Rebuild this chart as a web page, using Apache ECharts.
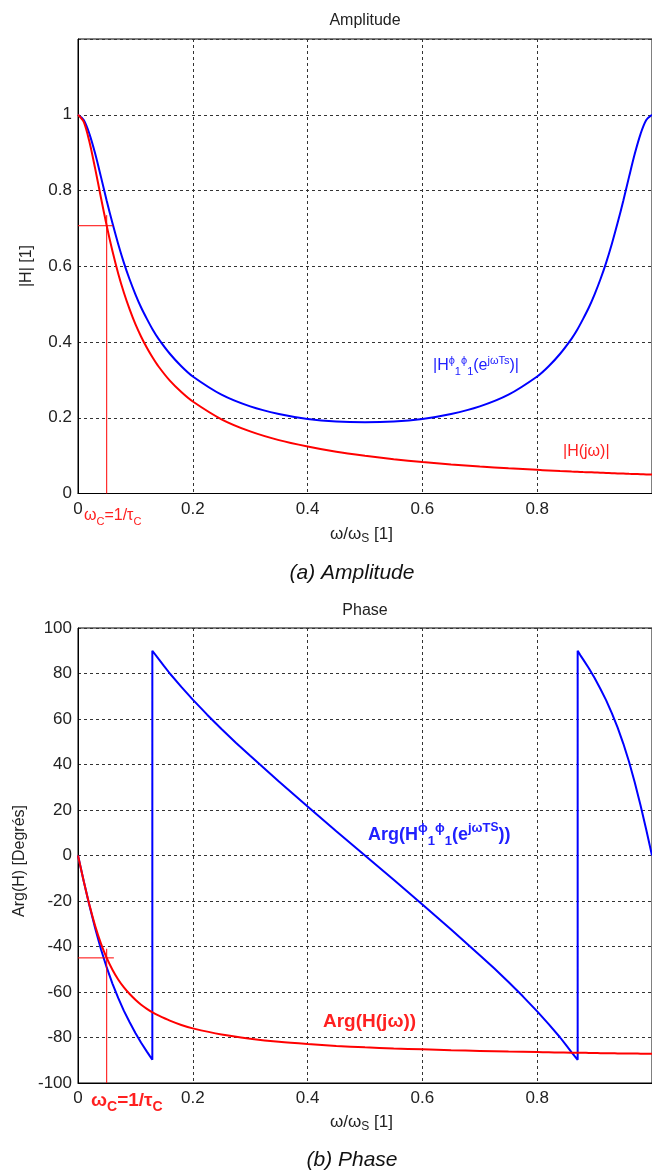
<!DOCTYPE html>
<html><head><meta charset="utf-8">
<script src="https://cdn.jsdelivr.net/npm/echarts@6/dist/echarts.min.js"></script>
<style>html,body{margin:0;padding:0;background:#fff}#c{width:652px;height:1174px}</style>
</head><body><div id="c"></div>
<script>
// ---------- DATA ----------
const ampX = [0,0.01,0.02,0.03,0.04,0.05,0.06,0.07,0.08,0.09,0.10,0.11,0.12,0.13,0.14,0.16,0.18,0.20,0.25,0.30,0.35,0.40,0.45,0.50,0.55,0.60,0.65,0.70,0.75,0.80,0.82,0.84,0.86,0.87,0.88,0.89,0.90,0.91,0.92,0.93,0.94,0.95,0.96,0.97,0.98,0.99,1.00];
const ampBlue = [1.000,0.986,0.949,0.897,0.836,0.773,0.714,0.659,0.609,0.565,0.526,0.491,0.461,0.433,0.409,0.369,0.336,0.309,0.261,0.230,0.210,0.197,0.190,0.188,0.190,0.197,0.210,0.230,0.261,0.309,0.336,0.369,0.409,0.433,0.461,0.491,0.526,0.565,0.609,0.659,0.714,0.773,0.836,0.897,0.949,0.986,1.000];
const ampRed = [1.000,0.981,0.928,0.857,0.781,0.707,0.640,0.581,0.530,0.486,0.447,0.414,0.385,0.359,0.336,0.298,0.268,0.243,0.196,0.164,0.141,0.124,0.110,0.0995,0.0905,0.0830,0.0767,0.0712,0.0665,0.0624,0.0609,0.0594,0.0580,0.0574,0.0567,0.0561,0.0555,0.0549,0.0543,0.0537,0.0531,0.0526,0.0520,0.0515,0.0510,0.0504,0.0499];
const phaseRedX = ampX;
const phaseRed = [0,-11.3,-21.8,-31.0,-38.7,-45.0,-50.2,-54.5,-58.0,-60.9,-63.4,-65.6,-67.4,-69.0,-70.3,-72.6,-74.5,-76.0,-78.7,-80.5,-81.9,-82.9,-83.7,-84.3,-84.8,-85.2,-85.6,-85.9,-86.2,-86.4,-86.5,-86.6,-86.7,-86.7,-86.7,-86.8,-86.8,-86.9,-86.9,-86.9,-87.0,-87.0,-87.0,-87.0,-87.1,-87.1,-87.1];
const phaseBlueX = [0,0.01,0.02,0.03,0.04,0.05,0.06,0.07,0.08,0.09,0.10,0.11,0.12,0.125,0.1295,0.1295,0.14,0.15,0.16,0.18,0.20,0.225,0.25,0.275,0.30,0.35,0.40,0.45,0.50,0.55,0.60,0.65,0.70,0.725,0.75,0.775,0.80,0.82,0.84,0.85,0.86,0.8705,0.8705,0.875,0.88,0.89,0.90,0.91,0.92,0.93,0.94,0.95,0.96,0.97,0.98,0.99,1.00];
const phaseBlue = [0,-11.3,-22.1,-32.1,-41.2,-49.2,-56.3,-62.6,-68.3,-73.3,-78.0,-82.3,-86.2,-88.1,-89.8,90,86.5,83.2,80.0,74.1,68.5,61.9,55.6,49.6,43.8,32.5,21.5,10.7,0,-10.7,-21.5,-32.5,-43.8,-49.6,-55.6,-61.9,-68.5,-74.1,-80.0,-83.2,-86.5,-89.8,90,88.1,86.2,82.3,78.0,73.3,68.3,62.6,56.3,49.2,41.2,32.1,22.1,11.3,0];
const cutoffW = 0.05;
const cutoffAmp = 0.707;
const cutoffPhase = -45;
const cutAmpHEnd = 0.061, cutAmpVTop = 0.735;
const cutPhHEnd = 0.0625, cutPhVTop = -41;
const ampTicks = {min:0, max:1.2, step:0.2};
const phaseTicks = {min:-100, max:100, step:20};
const xTicks = {min:0, max:1, step:0.2};

// ---------- CHART ----------
const FF = '"Liberation Sans", Arial, sans-serif';
const RED = '#ff0000', BLUE = '#0000ff';
const pairs = (xs, ys) => xs.map((x, i) => [x, ys[i]]);

const axisLbl = {color:'#222', fontSize:17, fontFamily:FF};
const split = {show:true, lineStyle:{color:'#333', width:1, type:[3,3]}};

function xAx(gi){ return {
  type:'value', gridIndex:gi, min:xTicks.min, max:xTicks.max, interval:xTicks.step,
  axisLine:{show:true, onZero:false, lineStyle:{color:'#000'}}, axisTick:{show:false},
  axisLabel:Object.assign({margin:7, showMaxLabel:false}, axisLbl), splitLine:split };
}
function yAx(gi, t, showMax){ return {
  type:'value', gridIndex:gi, min:t.min, max:t.max, interval:t.step,
  axisLine:{show:true, onZero:false, lineStyle:{color:'#000'}}, axisTick:{show:false},
  axisLabel:Object.assign({margin:6, showMaxLabel:showMax}, axisLbl), splitLine:split };
}
function line(xi, data, color, w, z, smooth){ return {
  type:'line', xAxisIndex:xi, yAxisIndex:xi, data, symbol:'none', silent:true, z:z||2,
  smooth:smooth||false,
  lineStyle:{color, width:w}, itemStyle:{color}, animation:false };
}

function R(size, va, lh, weight, color){ const o = {fontSize:size, fontFamily:FF, lineHeight:lh||size, verticalAlign:va, fontWeight:weight||'normal'}; if(color){o.fill=color;o.color=color;} return o; }
function T(x, y, text, rich, color, extra){
  return Object.assign({type:'text', x, y, z:100, silent:true,
    style:{text, rich, fill:color, align:'left', verticalAlign:'middle', textAlign:'left', textVerticalAlign:'middle'}}, extra||{});
}
function P(x, y, text, size, color, opts){
  opts = opts||{};
  return {type:'text', x, y, z:100, silent:true, rotation:opts.rot||0,
    style:{text, fill:color, fontSize:size, fontFamily:FF, fontStyle:opts.italic?'italic':'normal', fontWeight:opts.bold?'bold':'normal',
      align:opts.align||'center', verticalAlign:'middle', textAlign:opts.align||'center', textVerticalAlign:'middle'}};
}

const sRich = {m:R(17,'middle',22), s:R(12,'bottom',12)};
const topBlueRich = {m:R(16,'middle',22), p:R(11,'top',11), b:R(11,'bottom',11)};
const redSmallRich = {m:R(16,'middle',22), b:R(11,'bottom',11)};
const botBlueRich = {m:R(18,'middle',26,'bold'), p:R(13,'top',13,'bold'), b:R(13,'bottom',13,'bold'), s:R(12,'top',22,'bold')};
const botRedRich = {m:R(19,'middle',26,'bold'), b:R(14,'bottom',14,'bold')};

const option = {
  backgroundColor:'#fff',
  animation:false,
  grid:[
    {left:78, top:39, width:576, height:454.5, show:true, borderColor:'#000', borderWidth:1, containLabel:false},
    {left:78, top:628, width:576, height:455, show:true, borderColor:'#000', borderWidth:1, containLabel:false}
  ],
  xAxis:[xAx(0), xAx(1)],
  yAxis:[yAx(0, ampTicks, false), yAx(1, phaseTicks, true)],
  series:[
    line(0, pairs(ampX, ampBlue), BLUE, 2, 3, 0.3),
    line(0, pairs(ampX, ampRed), RED, 2, 4, 0.3),
    line(0, [[0,cutoffAmp],[cutAmpHEnd,cutoffAmp]], RED, 1, 5),
    line(0, [[cutoffW,0],[cutoffW,cutAmpVTop]], RED, 1, 5),
    line(1, pairs(phaseBlueX, phaseBlue), BLUE, 2, 3),
    line(1, pairs(phaseRedX, phaseRed), RED, 2, 4, 0.3),
    line(1, [[0,cutoffPhase],[cutPhHEnd,cutoffPhase]], RED, 1, 5),
    line(1, [[cutoffW,-100],[cutoffW,cutPhVTop]], RED, 1, 5)
  ],
  graphic:{elements:[
    P(365, 21, 'Amplitude', 16, '#222'),
    P(365, 611, 'Phase', 16, '#222'),
    P(27, 266, '|H| [1]', 16, '#222', {rot:Math.PI/2}),
    P(20, 861, 'Arg(H) [Degrés]', 16, '#222', {rot:Math.PI/2}),
    T(330, 534, '{m|ω/ω}{s|S}{m| [1]}', sRich, '#222'),
    T(330, 1122, '{m|ω/ω}{s|S}{m| [1]}', sRich, '#222'),
    P(352, 573, '(a) Amplitude', 21, '#111', {italic:true}),
    P(352, 1160, '(b) Phase', 21, '#111', {italic:true}),
    T(433, 366, '{m||H}{p|ϕ}{b|1}{p|ϕ}{b|1}{m|(e}{p|jωTs}{m|)|}', topBlueRich, '#2020ff'),
    T(563, 452, '{m||H(jω)|}', redSmallRich, '#ff2020'),
    T(84, 516, '{m|ω}{b|C}{m|=1/τ}{b|C}', redSmallRich, '#ff2020'),
    T(368, 835, '{m|Arg(H}{p|ϕ}{b|1}{p|ϕ}{b|1}{m|(e}{p|jωT}{s|S}{m|))}', botBlueRich, '#2020ff'),
    T(323, 1022, '{m|Arg(H(jω))}', botRedRich, '#ff2020'),
    T(91, 1101, '{m|ω}{b|C}{m|=1/τ}{b|C}', botRedRich, '#ff2020')
  ]}
};
const chart = echarts.init(document.getElementById('c'), null, {renderer:'canvas'});
chart.setOption(option);
</script></body></html>
